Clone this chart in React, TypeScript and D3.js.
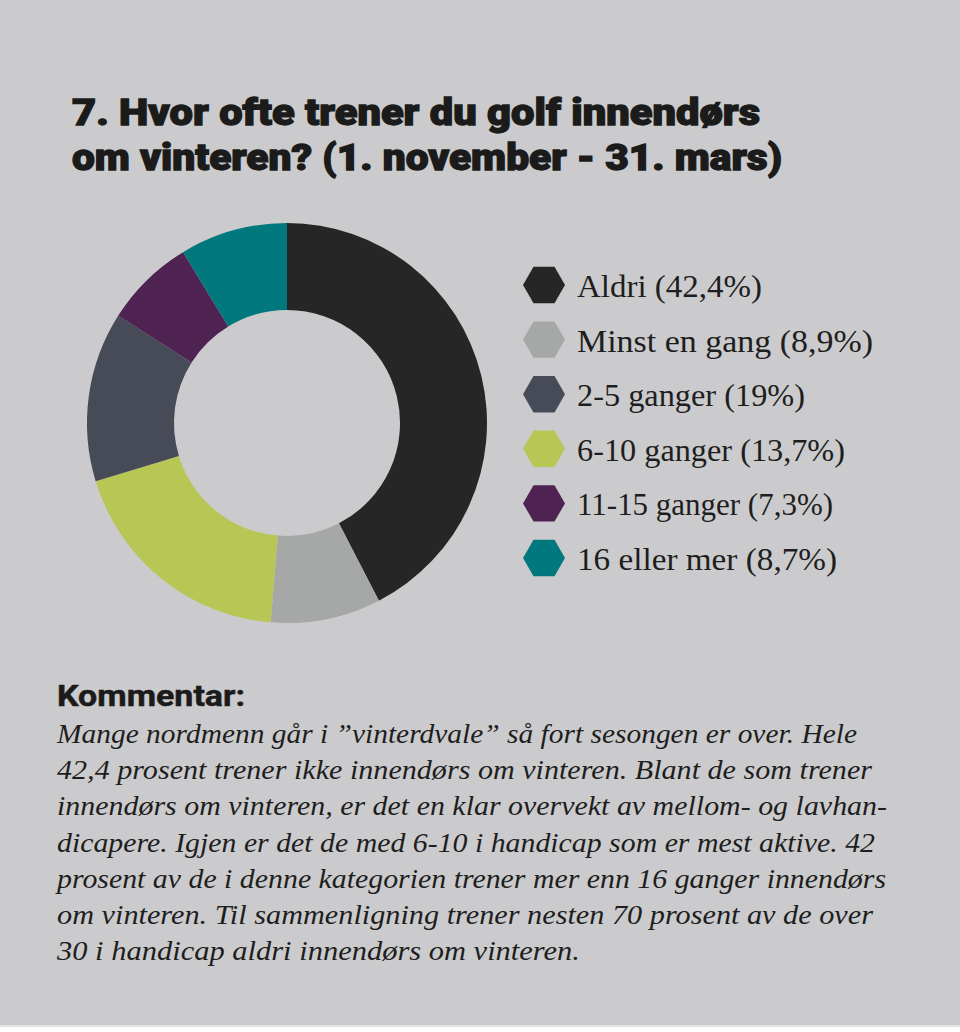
import React from "react";
import * as d3 from "d3";

// survey answers, in the order of the legend
const categories = [
  "Aldri",
  "Minst en gang",
  "2-5 ganger",
  "6-10 ganger",
  "11-15 ganger",
  "16 eller mer",
];
const values = [42.4, 8.9, 19, 13.7, 7.3, 8.7];
const valueLabels = ["42,4%", "8,9%", "19%", "13,7%", "7,3%", "8,7%"];

const legendColors = ["#262626", "#a6a8a8", "#474b58", "#b7c655", "#4e2352", "#00787e"];
// the printed donut uses lime for the 19% slice and slate for 13,7%
const sliceColors = ["#262626", "#a6a8a8", "#b7c655", "#474b58", "#4e2352", "#00787e"];

const titleLines = [
  "7. Hvor ofte trener du golf innendørs",
  "om vinteren? (1. november - 31. mars)",
];
const titleWidths = [688, 710];
const legendWidths = [185, 296, 228, 268, 256, 260];

const commentHeading = "Kommentar:";
const commentLines = [
  "Mange nordmenn går i ”vinterdvale” så fort sesongen er over. Hele",
  "42,4 prosent trener ikke innendørs om vinteren. Blant de som trener",
  "innendørs om vinteren, er det en klar overvekt av mellom- og lavhan-",
  "dicapere. Igjen er det de med 6-10 i handicap som er mest aktive. 42",
  "prosent av de i denne kategorien trener mer enn 16 ganger innendørs",
  "om vinteren. Til sammenligning trener nesten 70 prosent av de over",
  "30 i handicap aldri innendørs om vinteren.",
];
const commentWidths = [800, 815, 830, 818, 829, 816, 523];

const W = 960;
const H = 1032;

const cx = 287;
const cy = 423;
const outerR = 200;
const innerR = 113;

const App = () => {
  const pie = d3
    .pie<number>()
    .sort(null)
    .value((d) => d);
  const arcs = pie(values);
  const arc = d3.arc<d3.PieArcDatum<number>>().innerRadius(innerR).outerRadius(outerR);

  const legendY = d3
    .scalePoint<number>()
    .domain(d3.range(categories.length))
    .range([285, 558]);

  const hexR = 21;
  const hex = d3.range(6).map((i) => {
    const a = (Math.PI / 3) * i;
    return [hexR * Math.cos(a), hexR * Math.sin(a)] as [number, number];
  });
  const hexPath = d3.line()(hex) + "Z";

  return (
    <svg
      width={W}
      height={H}
      style={{ position: "absolute", left: 0, top: 0, display: "block" }}
    >
      <rect x={0} y={0} width={W} height={1025} fill="#cbcbcd" />
      <rect x={0} y={1025} width={W} height={2} fill="#e4e4e4" />

      {titleLines.map((t, i) => (
        <text
          key={t}
          x={72}
          y={125 + i * 45}
          fontFamily="Roboto, 'DejaVu Sans', sans-serif"
          fontWeight={900}
          fontSize={37}
          fill="#1b1b1b"
          stroke="#1b1b1b"
          strokeWidth={1.3}
          textLength={titleWidths[i]}
          lengthAdjust="spacingAndGlyphs"
        >
          {t}
        </text>
      ))}

      <g transform={`translate(${cx},${cy})`}>
        {arcs.map((a, i) => (
          <path key={i} d={arc(a) || ""} fill={sliceColors[i]} />
        ))}
      </g>

      {categories.map((c, i) => (
        <g key={c} transform={`translate(544,${legendY(i)})`}>
          <path d={hexPath} fill={legendColors[i]} />
          <text
            x={33}
            y={12}
            fontFamily="'Liberation Serif', serif"
            fontSize={32}
            fill="#1e1e1e"
            textLength={legendWidths[i]}
            lengthAdjust="spacingAndGlyphs"
          >
            {`${c} (${valueLabels[i]})`}
          </text>
        </g>
      ))}

      <text
        x={57}
        y={706}
        fontFamily="Roboto, 'DejaVu Sans', sans-serif"
        fontWeight={700}
        fontSize={30}
        fill="#1b1b1b"
        stroke="#1b1b1b"
        strokeWidth={0.5}
        textLength={188}
        lengthAdjust="spacingAndGlyphs"
      >
        {commentHeading}
      </text>
      {commentLines.map((l, i) => (
        <text
          key={i}
          x={57}
          y={743 + i * 36.2}
          fontFamily="'Liberation Serif', serif"
          fontStyle="italic"
          fontSize={27}
          fill="#1e1e1e"
          textLength={commentWidths[i]}
          lengthAdjust="spacingAndGlyphs"
        >
          {l}
        </text>
      ))}
    </svg>
  );
};

export default App;
